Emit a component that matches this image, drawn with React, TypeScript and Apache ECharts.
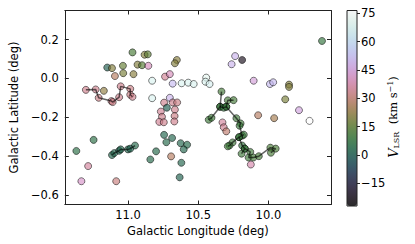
import React, { useEffect, useRef } from 'react';
import * as echarts from 'echarts';

// Axis limits and ticks
const xMin = 9.554, xMax = 11.45;
const yMin = -0.65, yMax = 0.35;
const vMin = -27, vMax = 76.5;
const xTicks = [11.0, 10.5, 10.0];
const yTicks = [-0.6, -0.4, -0.2, 0.0, 0.2];
const cbTicks = [-15, 0, 15, 30, 45, 60, 75];

// [longitude, latitude, V_LSR]
const isolated = [
  [10.968, 0.134, 12], [10.882, 0.122, 20], [10.859, 0.124, 15], [11.148, 0.056, 0],
  [11.114, 0.053, 20], [11.036, 0.065, 16], [10.932, 0.071, 20], [10.900, 0.068, 14],
  [10.855, 0.065, 40], [11.093, 0.012, 28], [11.034, 0.027, 19], [10.961, 0.022, 21],
  [10.828, -0.012, 68], [10.828, -0.102, 68], [11.172, -0.064, 22],
  [10.652, 0.095, 21], [10.666, 0.078, 20], [10.736, 0.009, 35], [10.702, 0.022, 40],
  [10.682, -0.027, 52], [10.618, -0.025, 68], [10.571, -0.022, 68], [10.532, -0.029, 68],
  [10.443, 0.004, 71], [10.448, -0.017, 68], [10.419, -0.029, 67],
  [10.702, -0.100, 50], [10.743, -0.125, 34], [10.682, -0.124, 34], [10.650, -0.124, 33],
  [10.723, -0.151, 0], [10.666, -0.161, 34], [10.766, -0.171, 35], [10.758, -0.198, 34],
  [10.777, -0.224, 35], [10.745, -0.226, 34], [10.668, -0.194, 33], [10.670, -0.222, 34],
  [10.237, 0.115, 50], [10.187, 0.095, -22], [10.262, 0.073, 50], [9.618, 0.193, 8],
  [10.105, -0.012, 45], [9.989, -0.029, 52], [9.966, -0.020, 52], [9.853, -0.032, 20],
  [9.853, -0.044, 20], [9.880, -0.108, 19], [9.782, -0.164, 46], [10.073, -0.190, 28],
  [9.959, -0.205, 25], [9.707, -0.219, 76],
  [10.743, -0.291, 2], [10.686, -0.307, 2], [10.727, -0.329, 3], [10.625, -0.334, 2],
  [10.579, -0.342, 3], [10.603, -0.366, 2], [10.800, -0.376, 3], [10.693, -0.402, 28],
  [10.620, -0.435, 2], [10.632, -0.510, 1], [10.841, -0.418, 3],
  [10.327, -0.227, 36], [10.318, -0.252, 35], [10.300, -0.273, 30], [10.125, -0.444, 38],
  [11.368, -0.374, 5], [11.245, -0.317, 5], [11.284, -0.452, 36], [11.332, -0.530, 42],
  [11.084, -0.530, 32],
];

const chainPink = [
  [11.300, -0.059, 34], [11.230, -0.057, 34], [11.209, -0.100, 33], [11.118, -0.117, 34],
  [11.109, -0.122, 33], [11.063, -0.097, 34], [11.052, -0.041, 34], [10.984, -0.054, 33],
  [10.984, -0.084, 33], [10.968, -0.095, 34],
];
const chainTeal = [
  [11.114, -0.395, 2], [11.098, -0.385, 2], [11.063, -0.373, 1], [11.052, -0.366, 2],
  [11.000, -0.366, 2], [10.984, -0.362, 1], [10.950, -0.346, 3],
];
const greenA = [[10.334, -0.068, 11], [10.344, -0.146, 9]];
const greenB = [
  [10.425, -0.213, 10], [10.405, -0.203, 10], [10.344, -0.146, 9], [10.318, -0.151, 8],
  [10.300, -0.146, 9], [10.289, -0.113, 11], [10.248, -0.112, 11],
];
const greenC = [
  [10.300, -0.146, 9], [10.228, -0.205, 10], [10.198, -0.232, 10], [10.205, -0.244, 9],
  [10.187, -0.295, 10], [10.175, -0.290, 9], [10.209, -0.303, 9], [10.255, -0.330, 10],
  [10.277, -0.346, 10], [10.289, -0.350, 10],
];
const greenD = [[10.209, -0.303, 9], [10.187, -0.346, 8], [10.168, -0.362, 9], [10.191, -0.388, 10]];
const greenE = [
  [10.168, -0.362, 9], [10.129, -0.379, 10], [10.141, -0.408, 10], [10.107, -0.408, 11],
  [10.068, -0.401, 11], [9.986, -0.357, 12], [9.948, -0.362, 12], [9.982, -0.383, 12],
];
const chains = [chainPink, chainTeal, greenA, greenB, greenC, greenD, greenE];

// matplotlib "cubehelix" colormap, drawn with alpha 0.8
function cubehelix(x: number, alpha: number): string {
  const s = 0.5, r = -1.5, h = 1.0;
  const a = (h * x * (1 - x)) / 2;
  const phi = 2 * Math.PI * (s / 3 + r * x);
  const c = Math.cos(phi), sn = Math.sin(phi);
  const cl = (v: number) => Math.round(Math.max(0, Math.min(1, v)) * 255);
  const R = cl(x + a * (-0.14861 * c + 1.78277 * sn));
  const G = cl(x + a * (-0.29227 * c - 0.90649 * sn));
  const B = cl(x + a * (1.97294 * c));
  return `rgba(${R},${G},${B},${alpha})`;
}
const cmap: string[] = [];
for (let i = 0; i <= 48; i++) cmap.push(cubehelix(i / 48, 0.8));

const FONT = 'DejaVu Sans';
const minus = (v: number, d: number) => (v < 0 ? '\u2212' + Math.abs(v).toFixed(d) : v.toFixed(d));

export default function App() {
  const ref = useRef<HTMLDivElement>(null);
  useEffect(() => {
    if (!ref.current) return;
    const chart = echarts.init(ref.current, undefined, { renderer: 'svg' });
    const frameAxis = { show: true, onZero: false, lineStyle: { color: '#222', width: 1 } };
    const allPoints = [...isolated, ...chains.flat()];
    const option: any = {
      animation: false,
      backgroundColor: '#fff',
      grid: [
        { left: 53, top: 10.5, width: 278, height: 194, show: false },
        { left: 347, top: 10.5, width: 10, height: 195.5, show: true, borderColor: '#222', borderWidth: 1, backgroundColor: 'transparent', z: 6 },
      ],
      xAxis: [
        {
          gridIndex: 0, type: 'value', min: xMin, max: xMax, inverse: true, position: 'bottom',
          axisLine: frameAxis,
          axisTick: { show: true, inside: true, length: 4, customValues: xTicks, lineStyle: { color: '#222' } },
          axisLabel: { customValues: xTicks, formatter: (v: number) => v.toFixed(1), fontSize: 11.5, color: '#000', fontFamily: FONT, margin: 4 },
          splitLine: { show: false },
          name: 'Galactic Longitude (deg)', nameLocation: 'middle', nameGap: 18,
          nameTextStyle: { fontSize: 11.5, color: '#000', fontFamily: FONT },
        },
        {
          gridIndex: 0, type: 'value', min: xMin, max: xMax, inverse: true, position: 'top',
          axisLine: frameAxis,
          axisTick: { show: true, inside: true, length: 4, customValues: xTicks, lineStyle: { color: '#222' } },
          axisLabel: { show: false }, splitLine: { show: false },
        },
        { gridIndex: 1, type: 'value', min: 0, max: 1, show: false },
      ],
      yAxis: [
        {
          gridIndex: 0, type: 'value', min: yMin, max: yMax, position: 'left',
          axisLine: frameAxis,
          axisTick: { show: true, inside: true, length: 4, customValues: yTicks, lineStyle: { color: '#222' } },
          axisLabel: { customValues: yTicks, formatter: (v: number) => minus(v, 1), fontSize: 11.5, color: '#000', fontFamily: FONT, margin: 6 },
          splitLine: { show: false },
          name: 'Galactic Latitude (deg)', nameLocation: 'middle', nameGap: 35,
          nameTextStyle: { fontSize: 11.5, color: '#000', fontFamily: FONT },
        },
        {
          gridIndex: 0, type: 'value', min: yMin, max: yMax, position: 'right',
          axisLine: frameAxis,
          axisTick: { show: true, inside: true, length: 4, customValues: yTicks, lineStyle: { color: '#222' } },
          axisLabel: { show: false }, splitLine: { show: false },
        },
        {
          gridIndex: 1, type: 'value', min: vMin, max: vMax, position: 'right',
          axisLine: { show: false, onZero: false },
          axisTick: { show: true, inside: false, length: 3, customValues: cbTicks, lineStyle: { color: '#222' } },
          axisLabel: { customValues: cbTicks, formatter: (v: number) => minus(v, 0), fontSize: 11.5, color: '#000', fontFamily: FONT, margin: 4 },
          splitLine: { show: false },
        },
      ],
      visualMap: {
        type: 'continuous', min: vMin, max: vMax, dimension: 2, seriesIndex: 0,
        inRange: { color: cmap },
        left: 347, top: 10.5, itemWidth: 10, itemHeight: 195.5, padding: 0,
        calculable: false, hoverLink: false, orient: 'vertical', z: 2,
      },
      series: [
        {
          type: 'scatter', xAxisIndex: 0, yAxisIndex: 0, data: allPoints, symbolSize: 7, z: 2,
          itemStyle: { borderColor: 'rgba(0,0,0,0.8)', borderWidth: 0.8 },
        },
        ...chains.map((c) => ({
          type: 'line', xAxisIndex: 0, yAxisIndex: 0, data: c.map((p) => [p[0], p[1]]),
          symbol: 'none', z: 3, silent: true,
          lineStyle: { color: 'rgba(0,0,0,0.6)', width: 1.5 },
        })),
      ],
      graphic: [
        {
          type: 'text', x: 393, y: 117, rotation: Math.PI / 2,
          style: {
            text: '{v|V}{sub|LSR}{n|  (km s}{sup|\u22121}{n|)}',
            align: 'center', verticalAlign: 'middle', fill: '#000',
            rich: {
              v: { fontSize: 13, fontStyle: 'italic', fontFamily: 'DejaVu Serif', height: 16, verticalAlign: 'middle' },
              sub: { fontSize: 8, fontFamily: 'DejaVu Serif', verticalAlign: 'bottom', height: 16, padding: [6, 0, 0, 0] },
              n: { fontSize: 11.5, fontFamily: 'DejaVu Serif', height: 16, verticalAlign: 'middle' },
              sup: { fontSize: 8, fontFamily: 'DejaVu Serif', verticalAlign: 'top', height: 16, padding: [0, 0, 6, 0] },
            },
          },
        },
      ],
    };
    chart.setOption(option);
    return () => chart.dispose();
  }, []);
  return <div ref={ref} style={{ position: 'fixed', left: 0, top: 0, width: 415, height: 244 }} />;
}
